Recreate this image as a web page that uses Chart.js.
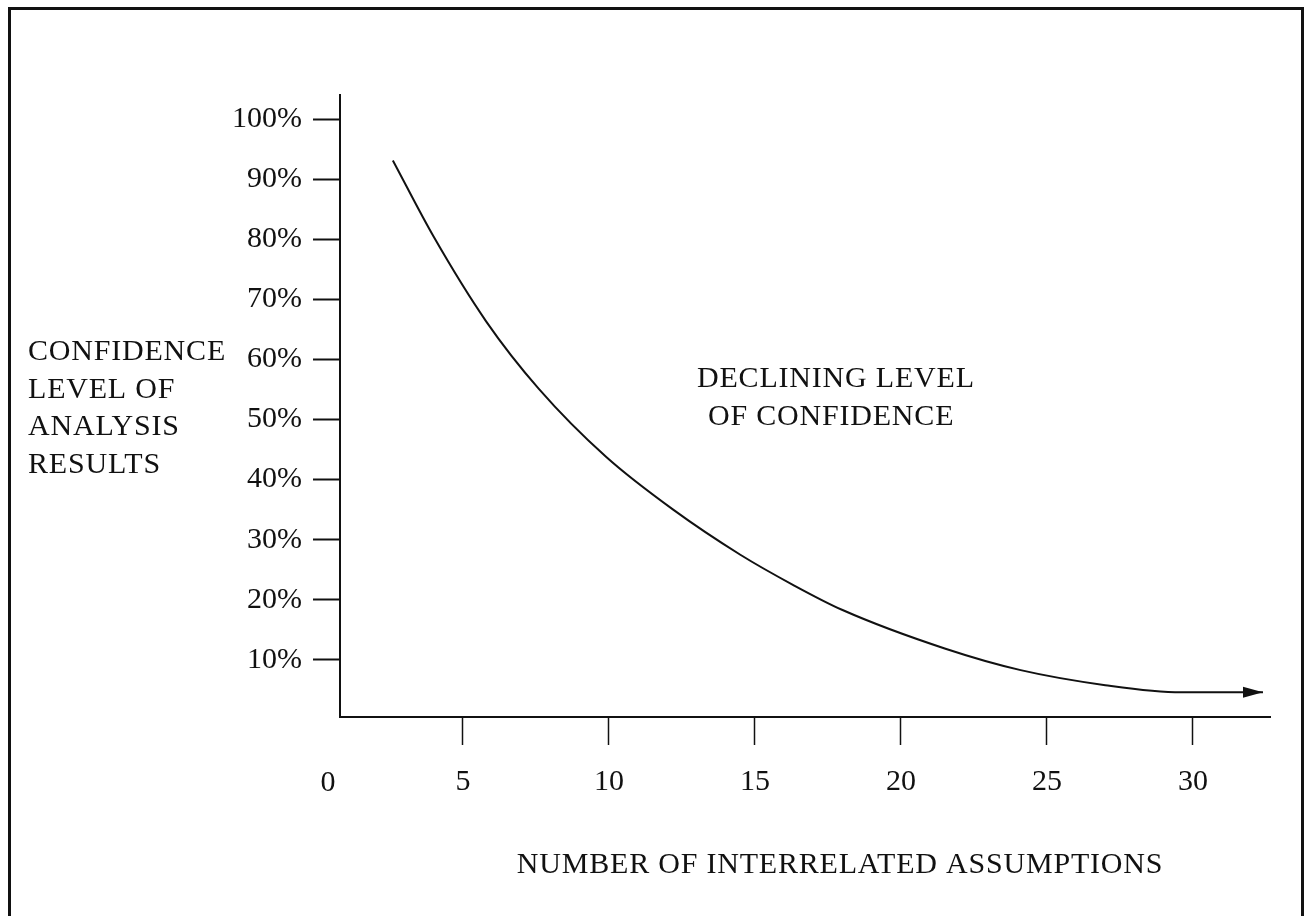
<!DOCTYPE html>
<html>
<head>
<meta charset="utf-8">
<title>Declining level of confidence</title>
<script src="https://cdn.jsdelivr.net/npm/chart.js@4.4.1/dist/chart.umd.min.js"></script>
<style>
  html, body { margin: 0; padding: 0; background: #ffffff; }
  #wrap { width: 1308px; height: 916px; }
</style>
</head>
<body>
<div id="wrap"><canvas id="chart" width="1308" height="916"></canvas></div>
<script>
// values
const assumptions = [2.6, 4.0, 5.8, 7.6, 9.9, 12.2, 14.5, 16.3, 18.0, 21.5, 24.1, 27.0, 29.6, 32.4];
const confidence = [93.1, 80.4, 66.3, 55.1, 43.8, 35.0, 27.5, 22.5, 18.3, 11.9, 8.3, 5.8, 4.6, 4.6];
const xTicks = [5, 10, 15, 20, 25, 30];
const yTicks = [10, 20, 30, 40, 50, 60, 70, 80, 90, 100];
const yTitleLines = ['CONFIDENCE', 'LEVEL OF', 'ANALYSIS', 'RESULTS'];
const noteLines = ['DECLINING LEVEL', 'OF CONFIDENCE'];
const xTitle = 'NUMBER OF INTERRELATED ASSUMPTIONS';

const FONT = '"Liberation Serif", "Times New Roman", serif';
const INK = '#111111';

const points = assumptions.map((x, i) => ({ x, y: confidence[i] }));

// frame, free text, the "0" label and the arrow head
const decorPlugin = {
  id: 'decor',
  beforeDraw(chart) {
    const ctx = chart.ctx;
    ctx.save();
    ctx.fillStyle = '#ffffff';
    ctx.fillRect(0, 0, chart.width, chart.height);
    ctx.strokeStyle = INK;
    ctx.lineWidth = 3;
    ctx.strokeRect(9.5, 8.5, 1293, 940);
    ctx.restore();
  },
  afterDraw(chart) {
    const ctx = chart.ctx;
    const xs = chart.scales.x;
    const ys = chart.scales.y;
    ctx.save();
    ctx.fillStyle = INK;
    ctx.font = '30px ' + FONT;
    ctx.textBaseline = 'alphabetic';
    ctx.letterSpacing = '0.8px';

    ctx.textAlign = 'left';
    yTitleLines.forEach((line, i) => ctx.fillText(line, 28, 360 + i * 37.7));
    ctx.fillText(noteLines[0], 697, 387);
    ctx.fillText(noteLines[1], 708, 425);

    ctx.textAlign = 'center';
    ctx.fillText(xTitle, 840, 873);
    ctx.letterSpacing = '0px';
    ctx.fillText('0', 328, 791);

    // arrow head at the end of the curve
    const meta = chart.getDatasetMeta(0).data;
    const last = meta[meta.length - 1];
    const prev = meta[meta.length - 2];
    const tipX = xs.getPixelForValue(assumptions[assumptions.length - 1]);
    const tipY = ys.getPixelForValue(confidence[confidence.length - 1]);
    const ang = Math.atan2(last.y - prev.y, last.x - prev.x);
    const len = 20, half = 5.5;
    ctx.beginPath();
    ctx.moveTo(tipX, tipY);
    ctx.lineTo(tipX - len * Math.cos(ang) + half * Math.sin(ang), tipY - len * Math.sin(ang) - half * Math.cos(ang));
    ctx.lineTo(tipX - len * Math.cos(ang) - half * Math.sin(ang), tipY - len * Math.sin(ang) + half * Math.cos(ang));
    ctx.closePath();
    ctx.fill();
    ctx.restore();
  }
};

new Chart(document.getElementById('chart'), {
  type: 'line',
  data: {
    datasets: [{
      data: points,
      borderColor: INK,
      borderWidth: 2,
      pointRadius: 0,
      fill: false,
      cubicInterpolationMode: 'monotone',
    }],
  },
  options: {
    responsive: false,
    animation: false,
    layout: { padding: { left: 0, top: 95, right: 38, bottom: 0 } },
    plugins: { legend: { display: false }, tooltip: { enabled: false } },
    scales: {
      x: {
        type: 'linear',
        min: 0.79,
        max: 32.64,
        afterBuildTicks: (scale) => { scale.ticks = xTicks.map((v) => ({ value: v })); },
        afterFit: (scale) => { scale.height = 199; },
        border: { display: true, color: INK, width: 2 },
        grid: { drawOnChartArea: false, drawTicks: true, tickLength: 28, color: INK, tickWidth: 1.5 },
        ticks: { color: INK, font: { family: FONT, size: 30 }, padding: 19, maxRotation: 0 },
      },
      y: {
        type: 'linear',
        min: 0.5,
        max: 104,
        afterBuildTicks: (scale) => { scale.ticks = yTicks.map((v) => ({ value: v })); },
        afterFit: (scale) => { scale.width = 340; },
        border: { display: true, color: INK, width: 2 },
        grid: { drawOnChartArea: false, drawTicks: true, tickLength: 27, color: INK, tickWidth: 2 },
        ticks: { color: INK, font: { family: FONT, size: 30 }, padding: 11, callback: (v) => v + '%' },
      },
    },
  },
  plugins: [decorPlugin],
});
</script>
</body>
</html>
